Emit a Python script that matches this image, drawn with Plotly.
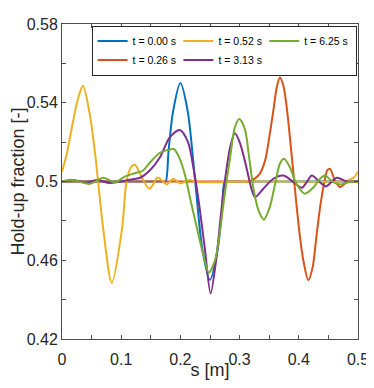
# Hold-up fraction profiles along s at several times

import plotly.graph_objects as go

# t = 0.00 s
s_t000 = [0, 0.10, 0.17, 0.175, 0.18, 0.1875, 0.2, 0.2125, 0.225, 0.2375, 0.25,
          0.2625, 0.27, 0.275, 0.28, 0.35, 0.5]
h_t000 = [0.5, 0.5, 0.5, 0.5, 0.5155, 0.5354, 0.55, 0.5354, 0.5, 0.4646, 0.45,
          0.4646, 0.4845, 0.5, 0.5, 0.5, 0.5]

# t = 0.26 s
s_t026 = [0, 0.10, 0.20, 0.30, 0.315, 0.323, 0.334, 0.343, 0.351, 0.357, 0.3627, 0.368,
          0.374, 0.3796, 0.385, 0.391, 0.3965, 0.402, 0.4076, 0.416, 0.4235, 0.429,
          0.436, 0.4426, 0.448, 0.4527, 0.461, 0.4696, 0.481, 0.49, 0.5]
h_t026 = [0.5, 0.5, 0.5, 0.5, 0.5, 0.501, 0.5039, 0.5106, 0.5241, 0.536, 0.5477, 0.5528,
          0.5486, 0.5376, 0.5224, 0.5039, 0.487, 0.4718, 0.46, 0.4499, 0.4566, 0.4701,
          0.487, 0.4988, 0.5056, 0.5064, 0.5005, 0.4971, 0.4996, 0.5, 0.5]

# t = 0.52 s
s_t052 = [0, 0.008, 0.019, 0.0276, 0.0355, 0.047, 0.056, 0.061, 0.07, 0.084, 0.101,
          0.109, 0.116, 0.123, 0.135, 0.147, 0.154, 0.161, 0.169, 0.177, 0.188, 0.2,
          0.215, 0.23, 0.3, 0.4, 0.47, 0.485, 0.493, 0.5]
h_t052 = [0.505, 0.514, 0.531, 0.5427, 0.5486, 0.534, 0.514, 0.5, 0.475, 0.4485, 0.475,
          0.5, 0.507, 0.5085, 0.502, 0.4963, 0.4985, 0.502, 0.5005, 0.4985, 0.5014, 0.499,
          0.5008, 0.4997, 0.5, 0.5, 0.5, 0.5008, 0.502, 0.505]

# t = 3.13 s
s_t313 = [0, 0.02, 0.04, 0.06, 0.08, 0.098, 0.115, 0.132, 0.149, 0.1655, 0.182, 0.199,
          0.213, 0.222, 0.2275, 0.233, 0.2416, 0.251, 0.261, 0.268, 0.275, 0.284, 0.292,
          0.3007, 0.312, 0.32, 0.326, 0.34, 0.357, 0.374, 0.391, 0.405, 0.413, 0.422,
          0.436, 0.446, 0.464, 0.481, 0.5]
h_t313 = [0.5, 0.5008, 0.4994, 0.5008, 0.4992, 0.5, 0.5009, 0.5019, 0.5058, 0.5123,
          0.5224, 0.5262, 0.5199, 0.507, 0.497, 0.4853, 0.465, 0.4431, 0.4617, 0.482,
          0.5, 0.5174, 0.5245, 0.5195, 0.5065, 0.4963, 0.492, 0.4963, 0.5014, 0.503,
          0.4997, 0.4968, 0.4995, 0.503, 0.4995, 0.4975, 0.5019, 0.5, 0.5]

# t = 6.25 s
s_t625 = [0, 0.014, 0.0287, 0.047, 0.07, 0.0895, 0.106, 0.123, 0.137, 0.149, 0.1655,
          0.182, 0.189, 0.199, 0.208, 0.216, 0.2275, 0.239, 0.248, 0.2585, 0.267, 0.275,
          0.284, 0.292, 0.2995, 0.309, 0.316, 0.323, 0.332, 0.341, 0.351, 0.36, 0.368,
          0.375, 0.385, 0.396, 0.41, 0.425, 0.436, 0.444, 0.458, 0.47, 0.486, 0.5]
h_t625 = [0.5, 0.5009, 0.5, 0.4988, 0.5019, 0.4995, 0.5025, 0.5042, 0.5056, 0.5098,
          0.5146, 0.5162, 0.5165, 0.5115, 0.503, 0.492, 0.4769, 0.4625, 0.4536, 0.46,
          0.4752, 0.4938, 0.5123, 0.5275, 0.5318, 0.5265, 0.5125, 0.4971, 0.4853, 0.4806,
          0.487, 0.4988, 0.509, 0.5115, 0.5072, 0.4988, 0.4938, 0.4971, 0.5014, 0.503,
          0.4997, 0.4985, 0.4998, 0.4998]

series = [
    ("t = 0.00 s", s_t000, h_t000, "#0072BD", 1),
    ("t = 0.26 s", s_t026, h_t026, "#D95319", 4),
    ("t = 0.52 s", s_t052, h_t052, "#EDB120", 2),
    ("t = 3.13 s", s_t313, h_t313, "#7E2F8E", 5),
    ("t = 6.25 s", s_t625, h_t625, "#77AC30", 3),
]

x_ticks = [0, 0.1, 0.2, 0.3, 0.4, 0.5]
y_ticks = [0.42, 0.46, 0.5, 0.54, 0.58]
y_labels = ["0.42", "0.46", "0.5", "0.54", "0.58"]

fig = go.Figure()
for name, s, h, col, rank in series:
    fig.add_trace(go.Scatter(x=s, y=h, mode="lines", name=name, legendrank=rank,
                             line=dict(color=col, width=2, shape="spline", smoothing=0.8)))

axis_common = dict(showline=True, linecolor="#4d4d4d", linewidth=1, mirror="allticks",
                   ticks="inside", ticklen=4, tickcolor="#4d4d4d", showgrid=False,
                   zeroline=False, automargin=False, ticklabeloverflow="allow",
                   tickfont=dict(size=16, color="#262626"))

fig.update_xaxes(range=[0, 0.5], tickvals=x_ticks, ticklabelstandoff=6,
                 minor=dict(dtick=0.05, ticks="inside", ticklen=4, tickcolor="#4d4d4d"),
                 title=dict(text="s [m]", font=dict(size=18, color="#262626"), standoff=5),
                 **axis_common)
fig.update_yaxes(range=[0.42, 0.58], tickvals=y_ticks, ticktext=y_labels,
                 minor=dict(dtick=0.02, ticks="inside", ticklen=4, tickcolor="#4d4d4d"),
                 title=dict(text="Hold-up fraction [-]", font=dict(size=18, color="#262626"),
                            standoff=6),
                 **axis_common)

# page body adds an 8px margin, so the figure is shifted by 8px
fig.update_layout(
    width=366, height=372,
    margin=dict(l=54, r=16, t=16, b=41),
    paper_bgcolor="white", plot_bgcolor="white",
    font=dict(family="Liberation Sans, Arial, sans-serif", color="#262626"),
    legend=dict(orientation="h", x=0.1, y=0.995, xanchor="left", yanchor="top",
                bgcolor="white", bordercolor="#262626", borderwidth=1,
                font=dict(size=10.5, color="#000000"), itemwidth=30,
                entrywidthmode="fraction", entrywidth=0.29, tracegroupgap=0),
    showlegend=True,
)

fig.write_html("out.html")
